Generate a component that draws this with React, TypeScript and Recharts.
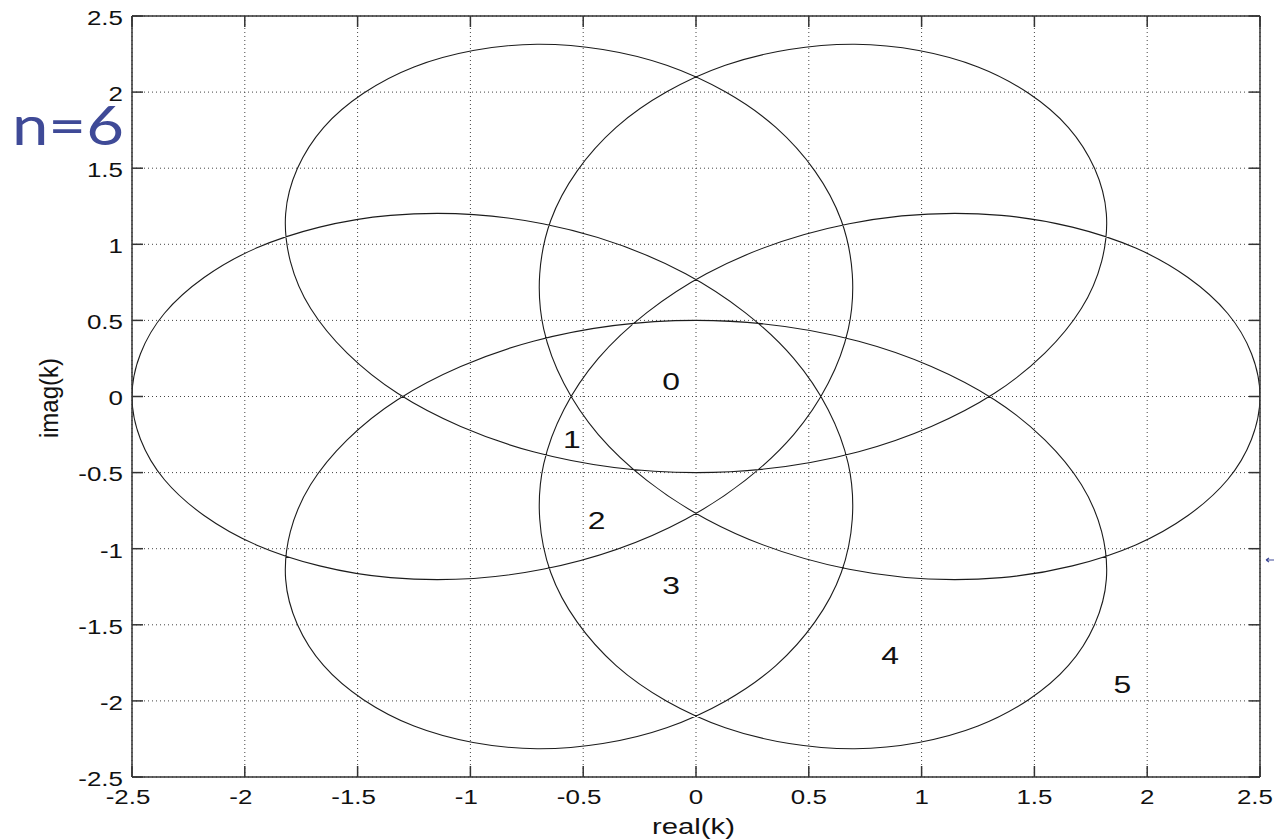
import { ComposedChart, Line, XAxis, YAxis, CartesianGrid, ReferenceDot } from 'recharts';

const curveRe = [
  2.5, 2.356, 1.949, 1.354, 0.679, 0.046,
  -0.433, -0.675, -0.644, -0.354, 0.13, 0.704,
  1.25, 1.651, 1.819, 1.708, 1.323, 0.721,
  0, -0.721, -1.323, -1.708, -1.819, -1.651,
  -1.25, -0.704, -0.13, 0.354, 0.644, 0.675,
  0.433, -0.046, -0.679, -1.354, -1.949, -2.356,
  -2.5, -2.356, -1.949, -1.354, -0.679, -0.046,
  0.433, 0.675, 0.644, 0.354, -0.13, -0.704,
  -1.25, -1.651, -1.819, -1.708, -1.323, -0.721,
  0, 0.721, 1.323, 1.708, 1.819, 1.651,
  1.25, 0.704, 0.13, -0.354, -0.644, -0.675,
  -0.433, 0.046, 0.679, 1.354, 1.949, 2.356,
];
const curveIm = [
  0, -0.547, -0.975, -1.19, -1.135, -0.806,
  -0.25, 0.443, 1.156, 1.768, 2.176, 2.314,
  2.165, 1.767, 1.2, 0.578, 0.021, -0.363,
  -0.5, -0.363, 0.021, 0.578, 1.2, 1.767,
  2.165, 2.314, 2.176, 1.768, 1.156, 0.443,
  -0.25, -0.806, -1.135, -1.19, -0.975, -0.547,
  0, 0.547, 0.975, 1.19, 1.135, 0.806,
  0.25, -0.443, -1.156, -1.768, -2.176, -2.314,
  -2.165, -1.767, -1.2, -0.578, -0.021, 0.363,
  0.5, 0.363, -0.021, -0.578, -1.2, -1.767,
  -2.165, -2.314, -2.176, -1.768, -1.156, -0.443,
  0.25, 0.806, 1.135, 1.19, 0.975, 0.547,
];

// region numbers and where they sit
const regionText = ['0', '1', '2', '3', '4', '5'];
const regionRe = [-0.11, -0.55, -0.44, -0.11, 0.86, 1.89];
const regionIm = [0.1, -0.28, -0.81, -1.24, -1.7, -1.89];

const xTicks = [-2.5, -2, -1.5, -1, -0.5, 0, 0.5, 1, 1.5, 2, 2.5];
const yTicks = [-2.5, -2, -1.5, -1, -0.5, 0, 0.5, 1, 1.5, 2, 2.5];

const curveData = curveRe.map((re, i) => ({ re, im: curveIm[i] }));

const W = 1274;
const H = 840;
// plot box edges in px
const LEFT = 132;
const RIGHT = 1260;
const TOP = 16;
const BOTTOM = 777;
const TICK = 11;

const FONT = '"Liberation Sans", Arial, Helvetica, sans-serif';
const FRAME = '#333';

// closed catmull-rom spline so the loop passes through every sample
function closedSpline(context: any) {
  let pts: number[][] = [];
  return {
    areaStart() {},
    areaEnd() {},
    lineStart() {
      pts = [];
    },
    point(x: number, y: number) {
      pts.push([+x, +y]);
    },
    lineEnd() {
      const n = pts.length;
      if (!n) return;
      context.moveTo(pts[0][0], pts[0][1]);
      for (let i = 0; i < n; i++) {
        const p0 = pts[(i - 1 + n) % n];
        const p1 = pts[i];
        const p2 = pts[(i + 1) % n];
        const p3 = pts[(i + 2) % n];
        context.bezierCurveTo(
          p1[0] + (p2[0] - p0[0]) / 6,
          p1[1] + (p2[1] - p0[1]) / 6,
          p2[0] - (p3[0] - p1[0]) / 6,
          p2[1] - (p3[1] - p1[1]) / 6,
          p2[0],
          p2[1]
        );
      }
      context.closePath();
    },
  };
}

const fmt = (v: number) => String(v);

// matlab style: ticks point into the box, labels stretched like the source image
function XTickBottom(props: any) {
  const v = props.payload.value;
  const c = props.payload.coordinate;
  // last label would run off the page, so pin its right edge inside
  const last = c + 20 > W;
  const tx = last ? W - 1 : c + (v < 0 ? -4 : 0);
  return (
    <g>
      <line x1={c} x2={c} y1={BOTTOM} y2={BOTTOM - TICK} stroke={FRAME} strokeWidth={1.5} />
      <text
        transform={`translate(${tx},804) scale(1.33,1)`}
        textAnchor={last ? 'end' : 'middle'}
        fontFamily={FONT}
        fontSize={19.5}
        fill="#111"
      >
        {fmt(v)}
      </text>
    </g>
  );
}

function XTickTop(props: any) {
  const c = props.payload.coordinate;
  return <line x1={c} x2={c} y1={TOP} y2={TOP + TICK} stroke={FRAME} strokeWidth={1.5} />;
}

function YTickLeft(props: any) {
  const v = props.payload.value;
  const c = props.payload.coordinate;
  return (
    <g>
      <line x1={LEFT} x2={LEFT + TICK} y1={c} y2={c} stroke={FRAME} strokeWidth={1.5} />
      <text
        transform={`translate(123,${c + 8.8}) scale(1.33,1)`}
        textAnchor="end"
        fontFamily={FONT}
        fontSize={19.5}
        fill="#111"
      >
        {fmt(v)}
      </text>
    </g>
  );
}

function YTickRight(props: any) {
  const c = props.payload.coordinate;
  return <line x1={RIGHT} x2={RIGHT - TICK} y1={c} y2={c} stroke={FRAME} strokeWidth={1.5} />;
}

const axisStyle = { stroke: FRAME, strokeWidth: 1.5 };

export default function App() {
  return (
    <div style={{ position: 'absolute', left: 0, top: 0, width: W, height: H, background: '#fff' }}>
      <ComposedChart
        width={W}
        height={H}
        data={curveData}
        margin={{ top: TOP - 10, right: W - RIGHT - 10, bottom: H - BOTTOM - 30, left: LEFT - 30 }}
      >
        <CartesianGrid stroke="#444" strokeDasharray="1 3" strokeWidth={1} />
        <XAxis
          type="number"
          dataKey="re"
          domain={[-2.5, 2.5]}
          ticks={xTicks}
          interval={0}
          allowDataOverflow
          height={30}
          tickLine={false}
          tick={XTickBottom}
          axisLine={axisStyle}
        />
        <XAxis
          xAxisId="top"
          orientation="top"
          type="number"
          dataKey="re"
          domain={[-2.5, 2.5]}
          ticks={xTicks}
          interval={0}
          allowDataOverflow
          height={10}
          tickLine={false}
          tick={XTickTop}
          axisLine={axisStyle}
        />
        <YAxis
          type="number"
          domain={[-2.5, 2.5]}
          ticks={yTicks}
          interval={0}
          allowDataOverflow
          width={30}
          tickLine={false}
          tick={YTickLeft}
          axisLine={axisStyle}
        />
        <YAxis
          yAxisId="right"
          orientation="right"
          type="number"
          domain={[-2.5, 2.5]}
          ticks={yTicks}
          interval={0}
          allowDataOverflow
          width={10}
          tickLine={false}
          tick={YTickRight}
          axisLine={axisStyle}
        />
        {/* invisible twin so the box's top and right axes get the same scale */}
        <Line
          xAxisId="top"
          yAxisId="right"
          dataKey="im"
          stroke="none"
          dot={false}
          activeDot={false}
          isAnimationActive={false}
        />
        <Line
          dataKey="im"
          type={closedSpline as any}
          stroke="#1c1c1c"
          strokeWidth={1.1}
          dot={false}
          activeDot={false}
          isAnimationActive={false}
        />
        {regionText.map((t, i) => (
          <ReferenceDot
            key={t}
            x={regionRe[i]}
            y={regionIm[i]}
            r={0}
            shape={(p: any) => (
              <text
                transform={`translate(${p.cx},${p.cy + 8.8}) scale(1.3,1)`}
                textAnchor="middle"
                fontFamily={FONT}
                fontSize={24.5}
                fill="#111"
              >
                {t}
              </text>
            )}
          />
        ))}
      </ComposedChart>
      <svg
        width={W}
        height={H}
        style={{ position: 'absolute', left: 0, top: 0, pointerEvents: 'none' }}
      >
        <text
          x={12}
          y={145}
          fontFamily='Lato, "Open Sans", sans-serif'
          fontSize={55}
          fill="#3f4a97"
          textLength={112}
          lengthAdjust="spacingAndGlyphs"
        >
          n=6
        </text>
        <text
          transform="translate(693.5,834) scale(1.33,1)"
          textAnchor="middle"
          fontFamily={FONT}
          fontSize={22}
          fill="#111"
        >
          real(k)
        </text>
        <text
          transform="translate(57.5,398) scale(1.1,1) rotate(-90)"
          textAnchor="middle"
          fontFamily={FONT}
          fontSize={24}
          fill="#111"
        >
          imag(k)
        </text>
        <path d="M1266,560 L1274,560 M1266,560 L1269,558 M1266,560 L1269,562" stroke="#3f4a97" strokeWidth={1.2} fill="none" />
      </svg>
    </div>
  );
}
